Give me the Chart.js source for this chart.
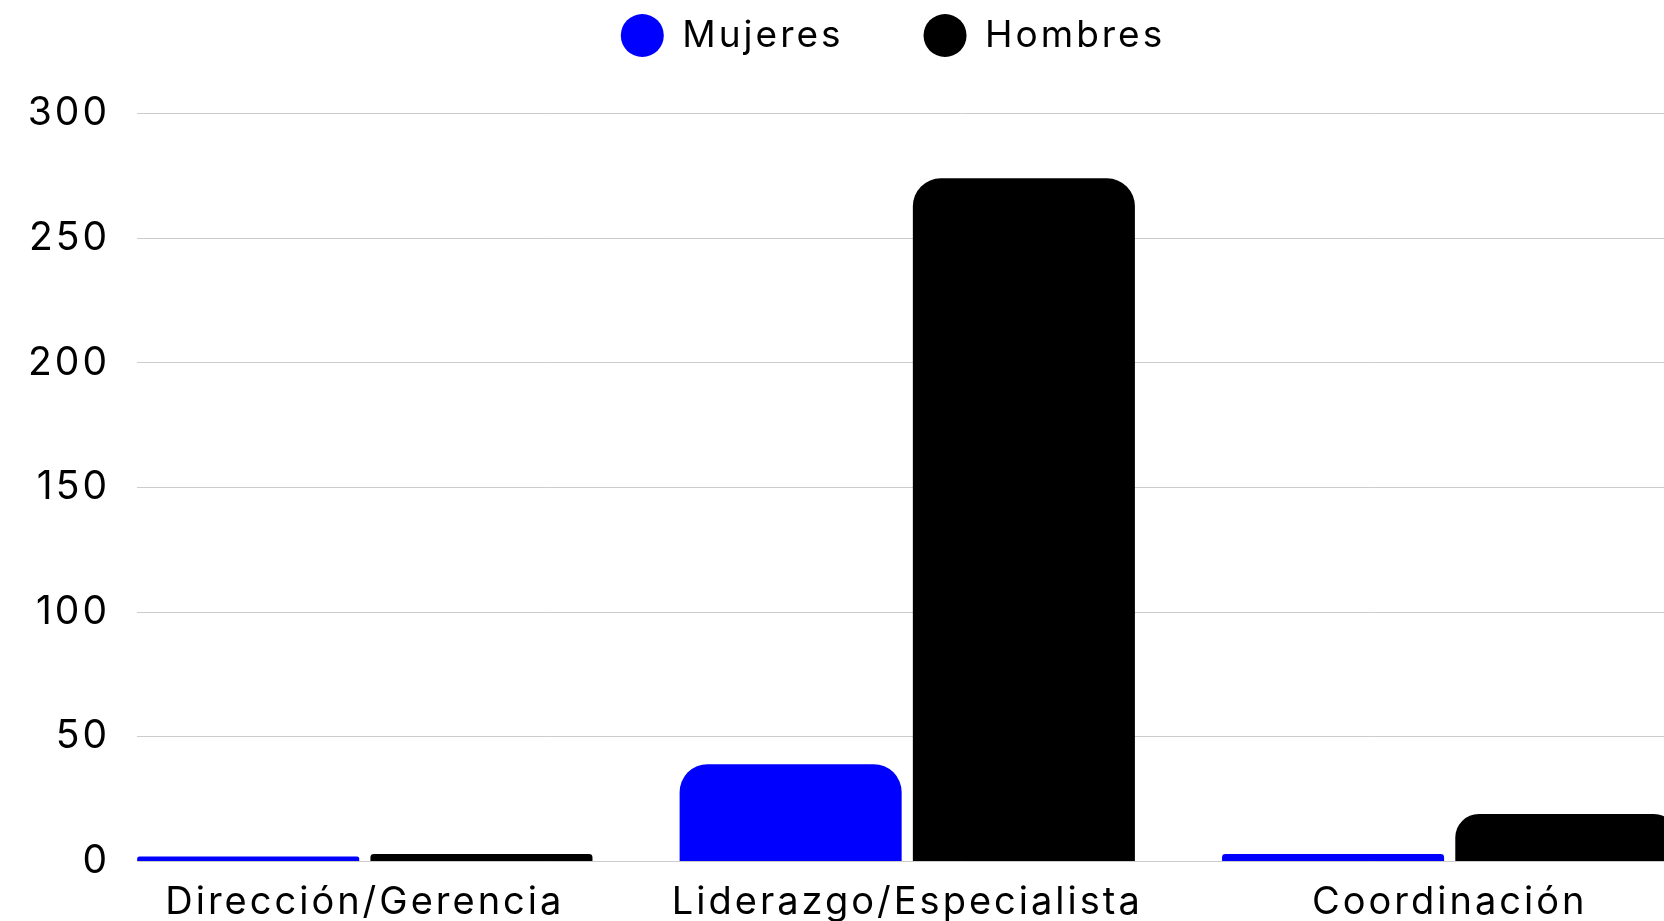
<!DOCTYPE html>
<html lang="es">
<head>
<meta charset="utf-8">
<title>Mujeres y hombres por nivel</title>
<script src="https://cdn.jsdelivr.net/npm/chart.js@4"></script>
<style>
  html, body { margin: 0; padding: 0; background: #fff; overflow: hidden; }
  .chart-box { position: relative; width: 1786px; height: 943px; }
</style>
</head>
<body>
<div class="chart-box"><canvas id="nivel-chart"></canvas></div>
<script>
const categories = ['Dirección/Gerencia', 'Liderazgo/Especialista', 'Coordinación'];
const mujeres = [2, 39, 3];
const hombres = [3, 274, 19];
const yTicks = [0, 50, 100, 150, 200, 250, 300];

const FONT = '"Inter", "Liberation Sans", sans-serif';
const LETTER_SPACING = '3px';

// the canvas loses its state on resize, so set the spacing before every layout and draw
const letterSpacing = {
    id: 'letterSpacing',
    beforeLayout(chart) { chart.ctx.letterSpacing = LETTER_SPACING; },
    beforeDraw(chart) { chart.ctx.letterSpacing = LETTER_SPACING; }
};

// fixed legend height so the plot area starts right under it
const legendHeight = {
    id: 'legendHeight',
    beforeInit(chart) {
        const fit = chart.legend.fit;
        chart.legend.fit = function () {
            fit.call(this);
            this.height = 176.5;
        };
    }
};

function toPoints(values) {
    return values.map((v, i) => ({ x: i, y: v }));
}

function renderChart() {
    const ctx = document.getElementById('nivel-chart').getContext('2d');

    new Chart(ctx, {
        type: 'bar',
        data: {
            datasets: [
                {
                    label: 'Mujeres',
                    data: toPoints(mujeres),
                    backgroundColor: '#0000ff',
                    borderRadius: 28,
                    categoryPercentage: 0.86,
                    barPercentage: 0.952
                },
                {
                    label: 'Hombres',
                    data: toPoints(hombres),
                    backgroundColor: '#000000',
                    borderRadius: 28,
                    categoryPercentage: 0.86,
                    barPercentage: 0.952
                }
            ]
        },
        options: {
            responsive: true,
            maintainAspectRatio: false,
            animation: false,
            layout: { padding: { top: -63, left: 0, right: 0, bottom: 0 } },
            plugins: {
                legend: {
                    position: 'top',
                    align: 'center',
                    labels: {
                        usePointStyle: true,
                        pointStyle: 'circle',
                        pointStyleWidth: 43,
                        boxHeight: 30.4,
                        padding: 80,
                        color: '#000',
                        font: { family: FONT, size: 37 }
                    }
                },
                tooltip: { enabled: false }
            },
            scales: {
                x: {
                    type: 'linear',
                    min: -0.42,
                    max: 2.62,
                    offset: false,
                    afterBuildTicks: axis => {
                        axis.ticks = categories.map((c, i) => ({ value: i }));
                    },
                    grid: { display: false, drawTicks: false },
                    border: { display: false },
                    ticks: {
                        autoSkip: false,
                        maxRotation: 0,
                        padding: 18,
                        color: '#000',
                        font: { family: FONT, size: 38 },
                        callback: value => categories[value]
                    }
                },
                y: {
                    min: 0,
                    max: 300,
                    afterBuildTicks: axis => {
                        axis.ticks = yTicks.map(v => ({ value: v }));
                    },
                    afterFit: axis => { axis.width = 137; },
                    grid: { color: '#cccccc', lineWidth: 1, drawTicks: false },
                    border: { display: false },
                    ticks: {
                        padding: 27,
                        color: '#000',
                        font: { family: FONT, size: 39 }
                    }
                }
            }
        },
        plugins: [letterSpacing, legendHeight]
    });
}

document.addEventListener('DOMContentLoaded', renderChart);
</script>
</body>
</html>
